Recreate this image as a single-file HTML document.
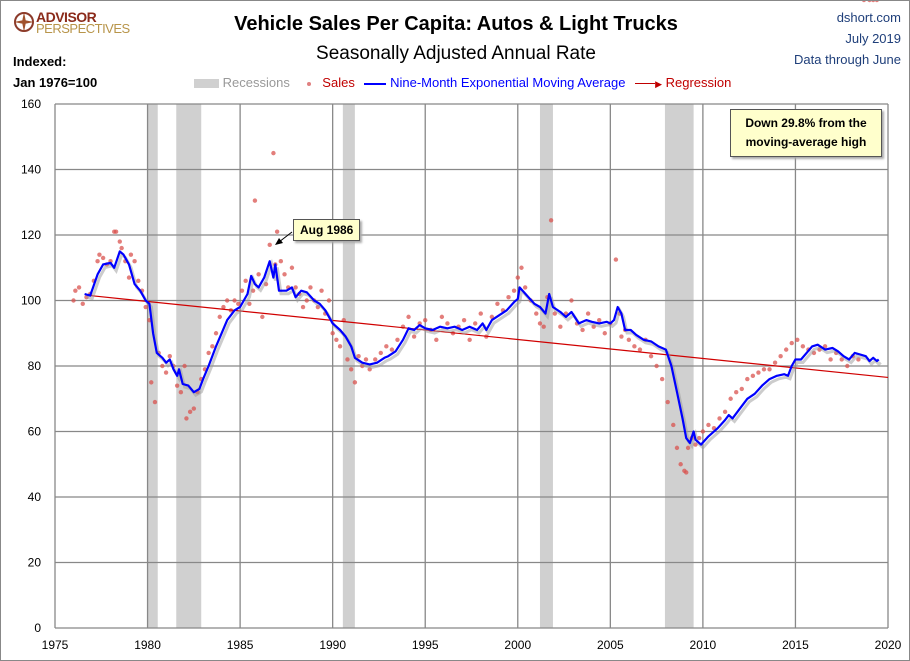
<!DOCTYPE html>
<html><head><meta charset="utf-8"><style>
body{margin:0;background:#fff;font-family:"Liberation Sans",sans-serif}
#wrap{position:relative;width:908px;height:659px;border:1px solid #888;overflow:hidden}
.t{position:absolute;white-space:nowrap}
</style></head><body>
<div id="wrap">
<div class="t" style="left:12px;top:8px;">
 <svg width="22" height="22" style="position:absolute;left:0;top:2px"><circle cx="11" cy="11" r="9" fill="none" stroke="#8b3a2a" stroke-width="2"/><path d="M11 1 L13 11 L11 21 L9 11Z M1 11 L11 9 L21 11 L11 13Z" fill="#a0522d"/></svg>
 <div class="t" style="left:23px;top:0;font-weight:bold;font-size:14px;color:#8b2a1a;letter-spacing:-0.5px">ADVISOR</div>
 <div class="t" style="left:23px;top:12px;font-size:13px;color:#b8954a;letter-spacing:-0.5px">PERSPECTIVES</div>
</div>
<div class="t" style="left:0;width:910px;text-align:center;top:12px;font-size:20px;font-weight:bold;color:#000">Vehicle Sales Per Capita: Autos &amp; Light Trucks</div>
<div class="t" style="left:0;width:910px;text-align:center;top:42px;font-size:19px;color:#000">Seasonally Adjusted Annual Rate</div>
<div class="t" style="right:8px;top:6px;text-align:right;font-size:13px;line-height:21px;color:#1f3f7a">dshort.com<br>July 2019<br>Data through June</div>
<div class="t" style="left:12px;top:50px;font-size:13px;line-height:21px;font-weight:bold;color:#000">Indexed:<br>Jan 1976=100</div>
<div class="t" style="left:193px;top:74px;font-size:13px;height:16px">
 <span><span style="display:inline-block;width:25px;height:9px;background:#d0d0d0;vertical-align:middle"></span> <span style="color:#999">Recessions</span></span>
 <span style="margin-left:14px"><span style="display:inline-block;width:4px;height:4px;border-radius:2px;background:#e08080;vertical-align:middle"></span>&nbsp;&nbsp; <span style="color:#c00000">Sales</span></span>
 <span style="margin-left:6px"><span style="display:inline-block;width:22px;height:2px;background:#00f;vertical-align:middle"></span> <span style="color:#00f">Nine-Month Exponential Moving Average</span></span>
 <span style="margin-left:6px"><span style="display:inline-block;width:20px;height:1px;background:#c00000;vertical-align:middle"></span><span style="color:#c00000;font-size:9px">&#9654;</span> <span style="color:#c00000">Regression</span></span>
</div>
<svg id="chart" width="910" height="661" style="position:absolute;left:-1px;top:-1px"></svg>
<div class="t" style="left:292px;top:218px;padding:3px 6px;background:#ffffcc;border:1px solid #555;box-shadow:2px 2px 2px #aaa;font-size:12px;font-weight:bold">Aug 1986</div>
<div class="t" style="left:729px;top:108px;width:150px;padding:4px 0;text-align:center;background:#ffffcc;border:1px solid #555;box-shadow:2px 2px 2px #aaa;font-size:12px;font-weight:bold;line-height:19px">Down 29.8% from the<br>moving-average high</div>
</div>
<script>
const yTicks=[0,20,40,60,80,100,120,140,160];
const xTicks=[1975,1980,1985,1990,1995,2000,2005,2010,2015,2020];
const recessions=[[1980.0,1980.55],[1981.55,1982.9],[1990.55,1991.2],[2001.2,2001.9],[2007.95,2009.5]];
const regression=[[1976.9,101.5],[2020,76.5]];
const emaYears=[1976.6,1976.9,1977.3,1977.6,1978.0,1978.2,1978.5,1978.7,1979.0,1979.3,1979.6,1979.9,1980.1,1980.3,1980.5,1980.8,1981.0,1981.2,1981.4,1981.6,1981.7,1981.9,1982.2,1982.5,1982.8,1983.0,1983.3,1983.7,1984.0,1984.3,1984.7,1985.0,1985.4,1985.6,1985.8,1986.0,1986.3,1986.6,1986.8,1986.9,1987.1,1987.5,1987.8,1988.0,1988.3,1988.6,1989.0,1989.3,1989.6,1990.0,1990.4,1990.7,1991.0,1991.2,1991.6,1992.0,1992.4,1992.8,1993.0,1993.4,1993.8,1994.1,1994.4,1994.7,1995.0,1995.4,1995.8,1996.2,1996.6,1997.0,1997.4,1997.8,1998.1,1998.3,1998.6,1999.0,1999.4,1999.8,2000.0,2000.1,2000.5,2000.9,2001.2,2001.5,2001.7,2001.9,2002.3,2002.6,2002.9,2003.3,2003.7,2004.0,2004.4,2004.8,2005.0,2005.2,2005.4,2005.6,2005.8,2006.1,2006.4,2006.8,2007.2,2007.6,2008.0,2008.3,2008.6,2008.9,2009.1,2009.3,2009.5,2009.6,2009.9,2010.3,2010.8,2011.2,2011.4,2011.6,2012.0,2012.4,2012.8,2013.2,2013.6,2014.0,2014.4,2014.6,2014.8,2015.0,2015.3,2015.6,2015.9,2016.2,2016.6,2017.0,2017.3,2017.6,2017.9,2018.2,2018.5,2018.8,2019.0,2019.2,2019.4,2019.5];
const emaValues=[102,101.5,108,111,111.5,110,115,114,111,105,103,100,99,90,84,82.5,81,82,79,77,79,74.5,74,72,73,76,80,86,90,94,97,98,102,107.5,105,104,107,112,107,111,103,103,104,101,103,102.5,100,99,97,93,91,89,86,82.5,81,80.5,81,82.5,83,84.5,88,91.5,91,92.5,91.5,91,92,91.5,92,91,92,91,93,91,94,95.5,97,99.5,100.5,104,101.5,99,98,96,102,98,96.5,95,96.5,93,94,93.5,93,93.5,93,94,98,96,91,91,89.5,88,87.5,86,85,80,72,64,58,56.5,60,57.5,56,58.5,61,63.5,65,64,67,70,71.5,74,76,77,77.5,77,80,82,82,84,86,86.5,85,85.5,84.5,83,82,84,83.5,83,81.5,82.5,81.5,82];
const salesYears=[1976.0,1976.1,1976.3,1976.5,1976.7,1976.9,1977.1,1977.3,1977.4,1977.6,1977.8,1978.0,1978.2,1978.3,1978.5,1978.6,1978.8,1979.0,1979.1,1979.3,1979.5,1979.7,1979.9,1980.1,1980.2,1980.4,1980.6,1980.8,1981.0,1981.2,1981.4,1981.6,1981.8,1982.0,1982.1,1982.3,1982.5,1982.7,1982.9,1983.1,1983.3,1983.5,1983.7,1983.9,1984.1,1984.3,1984.5,1984.7,1984.9,1985.1,1985.3,1985.5,1985.7,1985.8,1986.0,1986.2,1986.4,1986.6,1986.8,1986.9,1987.0,1987.2,1987.4,1987.6,1987.8,1988.0,1988.2,1988.4,1988.6,1988.8,1989.0,1989.2,1989.4,1989.6,1989.8,1990.0,1990.2,1990.4,1990.6,1990.8,1991.0,1991.2,1991.4,1991.6,1991.8,1992.0,1992.3,1992.6,1992.9,1993.2,1993.5,1993.8,1994.1,1994.4,1994.7,1995.0,1995.3,1995.6,1995.9,1996.2,1996.5,1996.8,1997.1,1997.4,1997.7,1998.0,1998.3,1998.6,1998.9,1999.2,1999.5,1999.8,2000.0,2000.2,2000.4,2000.7,2001.0,2001.2,2001.4,2001.6,2001.8,2002.0,2002.3,2002.6,2002.9,2003.2,2003.5,2003.8,2004.1,2004.4,2004.7,2005.0,2005.3,2005.5,2005.6,2005.8,2006.0,2006.3,2006.6,2006.9,2007.2,2007.5,2007.8,2008.1,2008.4,2008.6,2008.8,2009.0,2009.1,2009.2,2009.4,2009.6,2009.8,2010.0,2010.3,2010.6,2010.9,2011.2,2011.5,2011.8,2012.1,2012.4,2012.7,2013.0,2013.3,2013.6,2013.9,2014.2,2014.5,2014.8,2015.1,2015.4,2015.7,2016.0,2016.3,2016.6,2016.9,2017.2,2017.5,2017.8,2018.1,2018.4,2018.7,2019.0,2019.2,2019.4];
const salesValues=[100,103,104,99,101,102,106,112,114,113,111,112,121,121,118,116,112,107,114,112,106,103,98,94,75,69,84,80,78,83,80,74,72,80,64,66,67,72,76,79,84,86,90,95,98,100,97,100,99,103,106,99,103,130.5,108,95,105,117,145,111,121,112,108,104,110,104,102,98,100,104,100,98,103,96,100,90,88,86,94,82,79,75,83,80,82,79,82,84,86,85,88,92,95,89,93,94,91,88,95,93,90,92,94,88,93,96,89,95,99,97,101,103,107,110,104,100,96,93,92,101,124.5,96,92,96,100,93,91,96,92,94,90,93,112.5,96,89,91,88,86,85,88,83,80,76,69,62,55,50,48,47.5,55,58,56,58,60,62,61,64,66,70,72,73,76,77,78,79,79,81,83,85,87,88,86,85,84,85,86,82,84,82,80,83,82];
const NS='http://www.w3.org/2000/svg';
const svg=document.getElementById('chart');
const L=55,R=888,T=104,B=628;
const xS=v=>L+(v-1975)/(2020-1975)*(R-L);
const yS=v=>B-v/160*(B-T);
function mk(tag,attrs,parent){const e=document.createElementNS(NS,tag);for(const k in attrs)e.setAttribute(k,attrs[k]);(parent||svg).appendChild(e);return e;}
recessions.forEach(r=>{
 const e=mk('rect',{x:xS(r[0]),y:T,width:xS(r[1])-xS(r[0]),height:B-T,fill:'#d0d0d0'});
 
 
});
yTicks.forEach(v=>{
 const g=mk('line',{x1:L,x2:R,y1:yS(v),y2:yS(v),stroke:'#888','stroke-width':1.3});
 
 
 const t=mk('text',{x:L-14,y:yS(v)+4,'text-anchor':'end','font-size':12,fill:'#000','font-family':'Liberation Sans, sans-serif'});
 t.textContent=v;
 
 
});
xTicks.forEach(v=>{
 const g=mk('line',{x1:xS(v),x2:xS(v),y1:T,y2:B,stroke:'#888','stroke-width':1.3});
 
 
 const t=mk('text',{x:xS(v),y:B+21,'text-anchor':'middle','font-size':12,fill:'#000','font-family':'Liberation Sans, sans-serif'});
 t.textContent=v;
 
 
});
salesYears.forEach((yr,i)=>{
 const c=mk('circle',{cx:xS(yr),cy:yS(salesValues[i]),r:2.2,fill:'#d9534f','fill-opacity':0.75});
 
 
});
const rg=mk('line',{x1:xS(regression[0][0]),y1:yS(regression[0][1]),x2:xS(regression[1][0]),y2:yS(regression[1][1]),stroke:'#d00000','stroke-width':1.2});


const pts=emaYears.map((y,i)=>xS(y).toFixed(1)+','+yS(emaValues[i]).toFixed(1)).join(' ');
const sh=mk('polyline',{points:pts,fill:'none',stroke:'#999','stroke-opacity':0.5,'stroke-width':3,transform:'translate(2,3)'});


const pl=mk('polyline',{points:pts,fill:'none',stroke:'#0000ff','stroke-width':2.2,'stroke-linejoin':'round'});


const ar=mk('line',{x1:292,y1:232,x2:279,y2:242,stroke:'#000','stroke-width':1});


const ah=mk('polygon',{points:'275,245 283,243 279,238',fill:'#000'});


</script>
</body></html>
